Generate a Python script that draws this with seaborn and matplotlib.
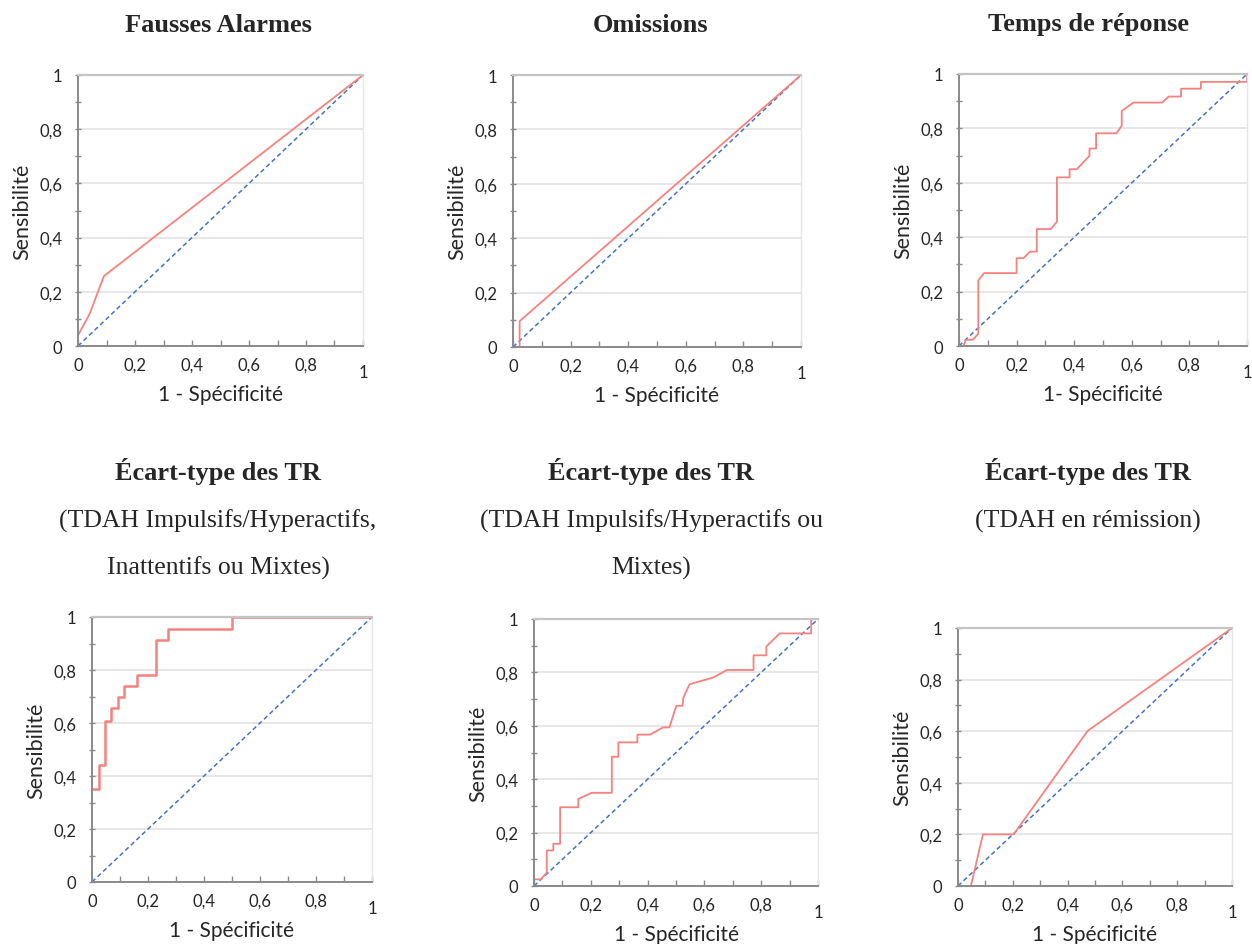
import matplotlib
matplotlib.use('Agg')
import matplotlib.pyplot as plt
import seaborn as sns
import pandas as pd
from matplotlib.ticker import MultipleLocator, FixedLocator

# courbes ROC (1 - spécificité, sensibilité)
fa_x = [0, 0.041, 0.091, 1]
fa_y = [0.039, 0.119, 0.258, 1]

om_x = [0.023, 0.023, 1]
om_y = [0, 0.095, 1]

tr_x = [0.015, 0.017, 0.024, 0.048, 0.067, 0.067, 0.087, 0.200, 0.200, 0.224, 0.247,
        0.270, 0.270, 0.319, 0.340, 0.340, 0.384, 0.384, 0.409, 0.453, 0.453, 0.476,
        0.476, 0.546, 0.565, 0.565, 0.606, 0.705, 0.728, 0.771, 0.771, 0.840, 0.840,
        1.0, 1.0]
tr_y = [0, 0.005, 0.023, 0.023, 0.045, 0.241, 0.268, 0.268, 0.323, 0.323, 0.347,
        0.347, 0.430, 0.430, 0.457, 0.620, 0.620, 0.650, 0.650, 0.699, 0.726, 0.726,
        0.782, 0.782, 0.809, 0.864, 0.895, 0.895, 0.917, 0.917, 0.946, 0.946, 0.971,
        0.971, 1.0]

et_all_x = [0, 0.024, 0.024, 0.047, 0.047, 0.069, 0.069, 0.093, 0.093, 0.115,
            0.115, 0.159, 0.159, 0.227, 0.227, 0.272, 0.272, 0.499, 0.499, 1.0]
et_all_y = [0.350, 0.350, 0.440, 0.440, 0.608, 0.608, 0.657, 0.657, 0.697, 0.697,
            0.740, 0.740, 0.782, 0.782, 0.914, 0.914, 0.956, 0.956, 1.0, 1.0]

et_hyp_x = [0, 0.024, 0.045, 0.045, 0.068, 0.068, 0.092, 0.092, 0.156, 0.156, 0.203,
            0.274, 0.274, 0.297, 0.297, 0.364, 0.364, 0.409, 0.454, 0.477, 0.501,
            0.523, 0.526, 0.548, 0.632, 0.679, 0.773, 0.773, 0.818, 0.818, 0.865,
            0.976, 0.976, 1.0]
et_hyp_y = [0.025, 0.025, 0.050, 0.133, 0.133, 0.158, 0.158, 0.295, 0.295, 0.326,
            0.349, 0.349, 0.484, 0.484, 0.538, 0.538, 0.567, 0.567, 0.594, 0.594,
            0.675, 0.675, 0.706, 0.756, 0.781, 0.809, 0.809, 0.864, 0.864, 0.897,
            0.946, 0.946, 1.0, 1.0]

et_rem_x = [0.047, 0.091, 0.203, 0.473, 1]
et_rem_y = [0, 0.200, 0.200, 0.601, 1]

diag = [0, 1]

titles = ['Fausses Alarmes', 'Omissions', 'Temps de réponse',
          'Écart-type des TR', 'Écart-type des TR', 'Écart-type des TR']
subtitles = [[], [], [],
             ['(TDAH Impulsifs/Hyperactifs,', 'Inattentifs ou Mixtes)'],
             ['(TDAH Impulsifs/Hyperactifs ou', 'Mixtes)'],
             ['(TDAH en rémission)']]
xlabels = ['1 - Spécificité', '1 - Spécificité', '1- Spécificité',
           '1 - Spécificité', '1 - Spécificité', '1 - Spécificité']
tick_labels = ['0', '0,2', '0,4', '0,6', '0,8', '1']
curves = [(fa_x, fa_y), (om_x, om_y), (tr_x, tr_y),
          (et_all_x, et_all_y), (et_hyp_x, et_hyp_y), (et_rem_x, et_rem_y)]

sns.set_style('white')
plt.rcParams['font.family'] = ['Lato', 'DejaVu Sans']

W, H = 1252, 945
fig = plt.figure(figsize=(W / 100, H / 100), dpi=100)

# boxes in pixels: left, top, right, bottom
boxes = [(78, 76, 363, 347), (513, 76, 801, 348), (959, 75, 1247, 347),
         (92, 618, 372, 883), (534, 620, 818, 887), (958, 629, 1232, 887)]
title_pos = [(218, 25), (651, 25), (1088, 25), (218, 472), (651, 472), (1088, 472)]

red = '#F4837F'
blue = '#4472C4'

for i, (l, t, r, b) in enumerate(boxes):
    ax = fig.add_axes([l / W, 1 - b / H, (r - l) / W, (b - t) / H])
    x, y = curves[i]
    df = pd.DataFrame({'x': x, 'y': y})
    sns.lineplot(data=pd.DataFrame({'x': diag, 'y': diag}), x='x', y='y', ax=ax,
                 color=blue, lw=1.1, linestyle=(0, (3, 2)), estimator=None, sort=False)
    sns.lineplot(data=df, x='x', y='y', ax=ax, color=red, lw=1.8 if i == 3 else 1.3,
                 estimator=None, sort=False)

    ax.set_xlim(0, 1)
    ax.set_ylim(0, 1)
    ax.xaxis.set_major_locator(FixedLocator([0, 0.2, 0.4, 0.6, 0.8, 1]))
    ax.yaxis.set_major_locator(FixedLocator([0, 0.2, 0.4, 0.6, 0.8, 1]))
    ax.xaxis.set_minor_locator(MultipleLocator(0.1))
    ax.yaxis.set_minor_locator(MultipleLocator(0.1))
    ax.set_xticklabels(tick_labels)
    ax.set_yticklabels(tick_labels)
    ax.grid(axis='y', which='major', color='#e3e3e3', lw=1.2)
    ax.set_axisbelow(True)

    for side in ['left', 'bottom']:
        ax.spines[side].set_color('#8a8a8a')
        ax.spines[side].set_linewidth(1.4)
    ax.spines['top'].set_color('#c4c4c4')
    ax.spines['top'].set_linewidth(1.6)
    ax.spines['right'].set_color('#e6e6e6')
    ax.spines['right'].set_linewidth(1.0)

    ax.tick_params(axis='x', which='both', direction='in', length=4, width=1,
                   color='#8a8a8a', labelsize=12, pad=8, bottom=True)
    ax.tick_params(axis='y', which='both', direction='inout', length=5, width=1,
                   color='#8a8a8a', labelsize=12, pad=9, left=True)
    ax.xaxis.get_major_ticks()[-1].set_pad(13)

    ax.set_xlabel(xlabels[i], fontsize=15, va='center')
    ax.set_ylabel('Sensibilité', fontsize=15.5, va='center')
    ax.xaxis.set_label_coords(0.5, -48 / (b - t))
    ax.yaxis.set_label_coords(-56 / (r - l), 0.5)

    tx, ty = title_pos[i]
    fig.text(tx / W, 1 - ty / H, titles[i], family='Liberation Serif',
             weight='bold', fontsize=19, ha='center', va='center')
    for k, line in enumerate(subtitles[i]):
        fig.text(tx / W, 1 - (521 + 47 * k) / H, line, family='Liberation Serif',
                 fontsize=18.5, ha='center', va='center')

fig.savefig('out.png', dpi=100, facecolor='white')
